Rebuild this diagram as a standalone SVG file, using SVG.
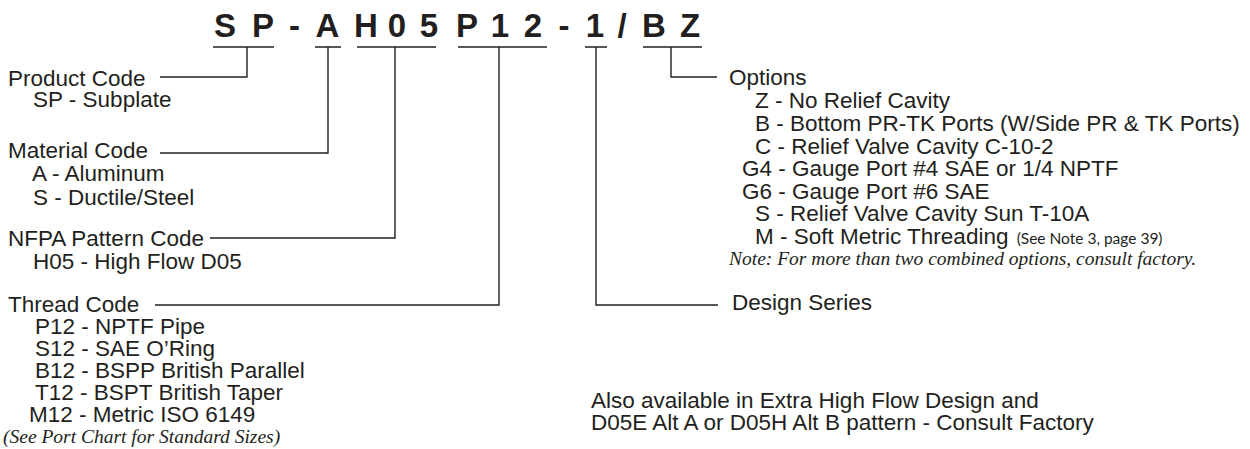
<svg xmlns="http://www.w3.org/2000/svg" width="1250" height="449" viewBox="0 0 1250 449">
<style>
  .code { font-family: "Liberation Sans", Arial, sans-serif; font-weight: bold; font-size: 33px; fill: #231f20; text-anchor: middle; }
  .t { font-family: "Liberation Sans", Arial, sans-serif; font-size: 22.5px; fill: #231f20; }
  .it { font-family: "Liberation Serif", "Times New Roman", serif; font-style: italic; font-size: 19.5px; fill: #231f20; }
  .sm { font-family: Lato, "Liberation Sans", sans-serif; font-size: 15.5px; fill: #231f20; }
  .ln { fill: none; stroke: #231f20; stroke-width: 1.4; }
</style>
<rect width="1250" height="449" fill="#ffffff"/>

<g id="model-code">
  <text class="code" x="225" y="37">S</text>
  <text class="code" x="263" y="37">P</text>
  <text class="code" x="294.5" y="37">-</text>
  <text class="code" x="327.5" y="37">A</text>
  <text class="code" x="366" y="37">H</text>
  <text class="code" x="397" y="37">0</text>
  <text class="code" x="429" y="37">5</text>
  <text class="code" x="467" y="37">P</text>
  <text class="code" x="500" y="37">1</text>
  <text class="code" x="533" y="37">2</text>
  <text class="code" x="564" y="37">-</text>
  <text class="code" x="595" y="37">1</text>
  <text class="code" x="622" y="37">/</text>
  <text class="code" x="654" y="37">B</text>
  <text class="code" x="690" y="37">Z</text>
</g>

<g id="connectors">
  <path class="ln" d="M213 47 H274 M247 47 V77 H160"/>
  <path class="ln" d="M315 47 H341 M328 47 V153 H160"/>
  <path class="ln" d="M357 47 H436 M395 47 V238 H210"/>
  <path class="ln" d="M458 47 H547 M499 47 V305 H155"/>
  <path class="ln" d="M585 47 H607 M596 47 V305 H718"/>
  <path class="ln" d="M643 47 H702 M671 47 V77 H717"/>
</g>

<g id="product-code">
  <text class="t" x="8" y="86">Product Code</text>
  <text class="t" x="33" y="107">SP - Subplate</text>
</g>

<g id="material-code">
  <text class="t" x="8" y="158">Material Code</text>
  <text class="t" x="32" y="181">A - Aluminum</text>
  <text class="t" x="33" y="205">S - Ductile/Steel</text>
</g>

<g id="pattern-code">
  <text class="t" x="8" y="246">NFPA Pattern Code</text>
  <text class="t" x="33" y="269">H05 - High Flow D05</text>
</g>

<g id="thread-code">
  <text class="t" x="8" y="312">Thread Code</text>
  <text class="t" x="35" y="333.5">P12 - NPTF Pipe</text>
  <text class="t" x="35" y="355.5">S12 - SAE O’Ring</text>
  <text class="t" x="35" y="377.5">B12 - BSPP British Parallel</text>
  <text class="t" x="35" y="400">T12 - BSPT British Taper</text>
  <text class="t" x="29" y="422">M12 - Metric ISO 6149</text>
  <text class="it" x="3" y="443">(See Port Chart for Standard Sizes)</text>
</g>

<g id="options">
  <text class="t" x="729" y="85">Options</text>
  <text class="t" x="755" y="108">Z - No Relief Cavity</text>
  <text class="t" x="755" y="131">B - Bottom PR-TK Ports (W/Side PR &amp; TK Ports)</text>
  <text class="t" x="755" y="153.5">C - Relief Valve Cavity C-10-2</text>
  <text class="t" x="742" y="176">G4 - Gauge Port #4 SAE or 1/4 NPTF</text>
  <text class="t" x="742" y="198.5">G6 - Gauge Port #6 SAE</text>
  <text class="t" x="755" y="221">S - Relief Valve Cavity Sun T-10A</text>
  <text class="t" x="755" y="244">M - Soft Metric Threading <tspan class="sm" dx="2">(See Note 3, page 39)</tspan></text>
  <text class="it" x="729" y="265">Note: For more than two combined options, consult factory.</text>
</g>

<g id="design-series">
  <text class="t" x="732" y="310">Design Series</text>
</g>

<g id="availability-note">
  <text class="t" x="591" y="408">Also available in Extra High Flow Design and</text>
  <text class="t" x="591" y="430">D05E Alt A or D05H Alt B pattern - Consult Factory</text>
</g>
</svg>
